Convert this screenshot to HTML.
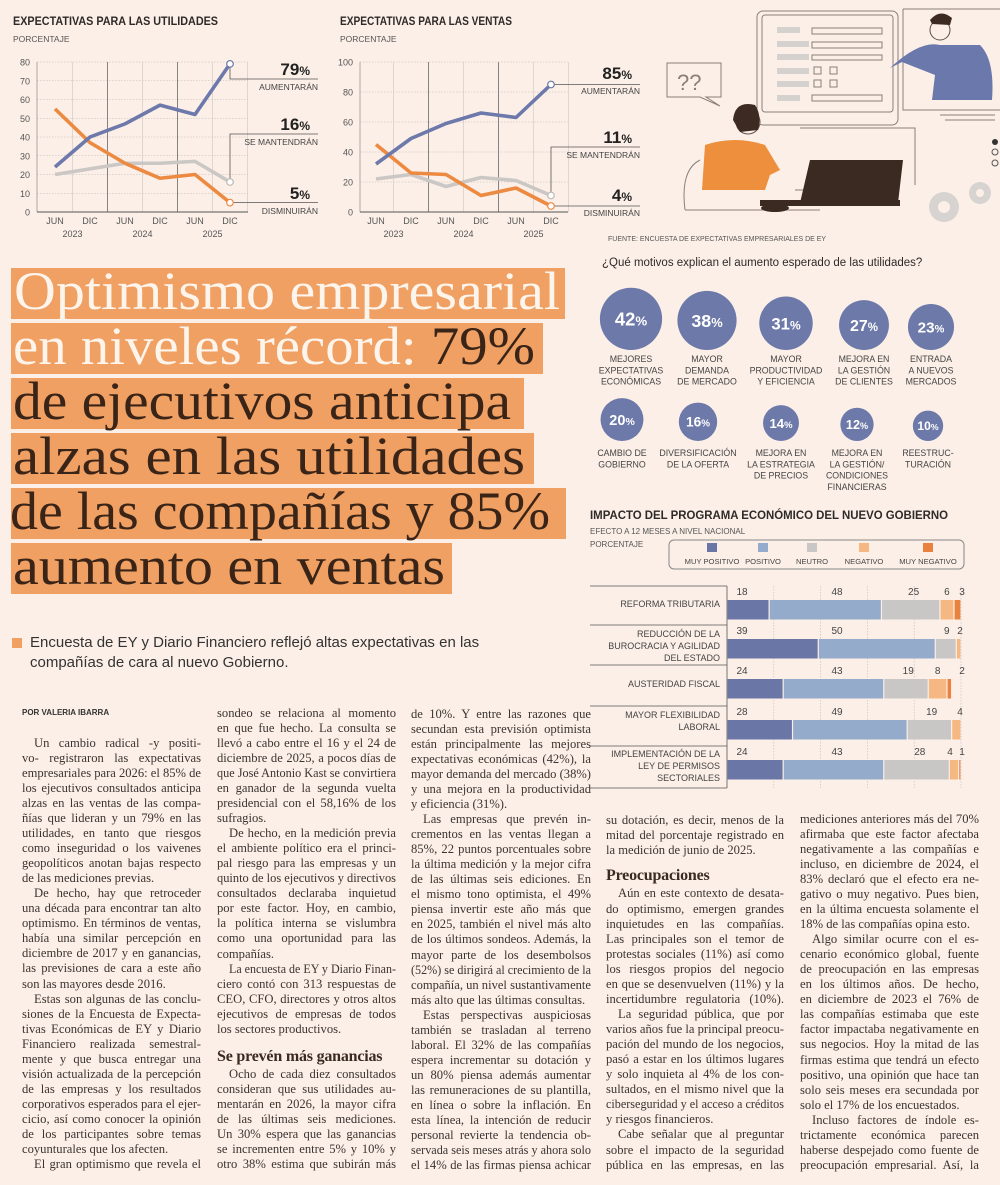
<!DOCTYPE html>
<html><head><meta charset="utf-8">
<style>
html,body{margin:0;padding:0}
body{width:1000px;height:1185px;position:relative;overflow:hidden;background:#fcefe7;font-family:"Liberation Sans",sans-serif;color:#3b3431}
.abs{position:absolute}
.col{position:absolute;font-family:"Liberation Serif",serif;font-size:12.6px;line-height:15.07px;color:#3b3431}
.col div{white-space:nowrap;text-align:justify;text-align-last:justify;height:15.07px;overflow:visible}
.col div.e{text-align-last:left}
.col div.i{text-indent:12px}
.col h3{margin:0;font-family:"Liberation Serif",serif;font-size:16px;letter-spacing:-0.2px;white-space:nowrap;font-weight:bold;color:#3a2a22;height:20px;line-height:20px}
.narrow{font-family:"Liberation Sans Narrow","Liberation Sans",sans-serif}
svg text:not(.sf){font-family:"Liberation Sans Narrow","Liberation Sans",sans-serif}
svg text.sf{font-family:"Liberation Serif",serif}
</style></head>
<body>

<!-- LINE CHARTS -->
<svg id="lines" class="abs" style="left:0;top:0" width="660" height="250">
  <text x="13" y="25" font-size="12" font-weight="bold" fill="#2e2a28" textLength="205" lengthAdjust="spacingAndGlyphs">EXPECTATIVAS PARA LAS UTILIDADES</text>
  <text x="13" y="42" font-size="8.5" fill="#555">PORCENTAJE</text>
  <text x="340" y="25" font-size="12" font-weight="bold" fill="#2e2a28" textLength="172" lengthAdjust="spacingAndGlyphs">EXPECTATIVAS PARA LAS VENTAS</text>
  <text x="340" y="42" font-size="8.5" fill="#555">PORCENTAJE</text>
  <g id="g1"></g><g id="g2"></g>
</svg>

<!-- ILLUSTRATION -->
<svg class="abs" style="left:640px;top:0" width="360" height="235">
  <g fill="none" stroke="#8a7f78" stroke-width="1">
    <rect x="117" y="11" width="141" height="114" rx="6"/>
    <rect x="122" y="15" width="131" height="97" rx="3"/>
    <path d="M263 9 H360 M263 9 V110 H360"/>
    <path d="M27 63 H81 V97 H66 L80 106 L60 97 H27 Z"/>
    <path d="M172 28h70v6h-70z M172 42h70v6h-70z M172 55h70v5h-70z M172 95h70v6h-70z"/>
    <rect x="174" y="67" width="7" height="7"/><rect x="190" y="67" width="7" height="7"/>
    <rect x="174" y="80" width="7" height="7"/><rect x="190" y="80" width="7" height="7"/>
    <path d="M160 128 H275 V185 M155 190 H230"/>
    <path d="M60 160 Q40 170 45 210 M45 210 H180"/>
    <path d="M300 115 H355 M305 120 H355"/>
  </g>
  <g fill="#d4d1ce"><rect x="137" y="27" width="23" height="6"/><rect x="137" y="41" width="32" height="6"/><rect x="137" y="54" width="32" height="6"/><rect x="137" y="68" width="32" height="6"/><rect x="137" y="81" width="32" height="6"/><rect x="137" y="95" width="23" height="6"/></g>
  <text x="37" y="90" font-size="22" fill="#8a7f78">??</text>
  <path d="M250 68 Q280 40 300 45 L340 45 Q355 60 352 100 L292 100 L295 75 L262 62 Z" fill="#6b78ab"/>
  <circle cx="300" cy="30" r="10" fill="#fcefe7" stroke="#5a4e48"/>
  <path d="M290 20 Q300 8 312 18 L310 25 L292 24 Z" fill="#3d2a22"/>
  <circle cx="108" cy="122" r="12" fill="#fcefe7" stroke="#5a4e48"/>
  <path d="M93 120 Q95 100 115 105 Q122 115 118 130 L100 132 Z" fill="#3d2a22"/>
  <path d="M65 145 Q95 135 125 145 L140 170 L130 175 L125 190 L62 190 Z" fill="#ee8f3e"/>
  <path d="M170 160 H263 L258 203 H160 Z" fill="#3a2a22"/>
  <rect x="120" y="200" width="140" height="6" fill="#3a2a22"/>
  <ellipse cx="135" cy="208" rx="14" ry="4" fill="#3a2a22"/>
  <circle cx="304" cy="207" r="15" fill="#d6d3d0"/><circle cx="304" cy="207" r="6" fill="#fcefe7"/>
  <circle cx="340" cy="193" r="11" fill="#d6d3d0"/><circle cx="340" cy="193" r="4" fill="#fcefe7"/>
  <circle cx="355" cy="142" r="3" fill="#333"/><circle cx="355" cy="152" r="3" fill="none" stroke="#555"/><circle cx="355" cy="163" r="3" fill="none" stroke="#555"/>
</svg>
<div class="abs narrow" style="left:608px;top:236px;font-size:7px;color:#555">FUENTE: ENCUESTA DE EXPECTATIVAS EMPRESARIALES DE EY</div>

<!-- BUBBLES -->
<div class="abs" style="left:602px;top:257px;font-size:11.5px;color:#2e2a28">¿Qué motivos explican el aumento esperado de las utilidades?</div>
<svg id="bub" class="abs" style="left:590px;top:270px" width="410" height="230"></svg>

<!-- BAR CHART -->
<svg id="bars" class="abs" style="left:580px;top:500px" width="420" height="295">
  <text x="10" y="19" font-size="12" font-weight="bold" fill="#2e2a28" textLength="358" lengthAdjust="spacingAndGlyphs">IMPACTO DEL PROGRAMA ECONÓMICO DEL NUEVO GOBIERNO</text>
  <text x="10" y="34" font-size="8" fill="#555">EFECTO A 12 MESES A NIVEL NACIONAL</text>
  <text x="10" y="47" font-size="8" fill="#555">PORCENTAJE</text>
  <rect x="89" y="40" width="295" height="29" rx="5" fill="none" stroke="#888"/>
  <g id="legend"></g>
  <g id="barg"></g>
</svg>

<!-- HEADLINE -->
<svg class="abs" style="left:0;top:260px" width="600" height="350">
  <g fill="#efa062">
    <rect x="11" y="8" width="554" height="51"/>
    <rect x="11" y="63" width="532" height="51"/>
    <rect x="11" y="118" width="513" height="51"/>
    <rect x="11" y="173" width="523" height="51"/>
    <rect x="11" y="228" width="555" height="51"/>
    <rect x="11" y="283" width="441" height="51"/>
  </g>
  <g font-size="54" fill="#3a2418">
    <text class="sf" x="14" y="49" textLength="546" lengthAdjust="spacingAndGlyphs" fill="#fdf4ec">Optimismo empresarial</text>
    <text class="sf" x="13" y="104" textLength="522" lengthAdjust="spacingAndGlyphs"><tspan fill="#fdf4ec">en niveles récord: </tspan>79%</text>
    <text class="sf" x="13" y="159" textLength="498" lengthAdjust="spacingAndGlyphs">de ejecutivos anticipa</text>
    <text class="sf" x="13" y="214" textLength="512" lengthAdjust="spacingAndGlyphs">alzas en las utilidades</text>
    <text class="sf" x="10" y="269" textLength="540" lengthAdjust="spacingAndGlyphs">de las compañías y 85%</text>
    <text class="sf" x="13" y="324" textLength="432" lengthAdjust="spacingAndGlyphs">aumento en ventas</text>
  </g>
</svg>

<div class="abs" style="left:12px;top:638px;width:10px;height:10px;background:#efa062"></div>
<div class="abs" style="left:30px;top:633px;font-size:15px;line-height:20px;color:#333;width:520px">Encuesta de EY y Diario Financiero reflejó altas expectativas en las<br>compañías de cara al nuevo Gobierno.</div>

<div class="abs" style="left:22px;top:708px;font-size:8px;font-weight:bold;color:#333">POR VALERIA IBARRA</div>

<!-- COLUMN 1 -->
<div class="col" style="left:22px;top:735.5px;width:179px">
<div class="i">Un cambio radical -y positi-</div>
<div>vo- registraron las expectativas</div>
<div>empresariales para 2026: el 85% de</div>
<div>los ejecutivos consultados anticipa</div>
<div>alzas en las ventas de las compa-</div>
<div>ñías que lideran y un 79% en las</div>
<div>utilidades, en tanto que riesgos</div>
<div>como inseguridad o los vaivenes</div>
<div>geopolíticos anotan bajas respecto</div>
<div class="e">de las mediciones previas.</div>
<div class="i">De hecho, hay que retroceder</div>
<div>una década para encontrar tan alto</div>
<div>optimismo. En términos de ventas,</div>
<div>había una similar percepción en</div>
<div>diciembre de 2017 y en ganancias,</div>
<div>las previsiones de cara a este año</div>
<div class="e">son las mayores desde 2016.</div>
<div class="i">Estas son algunas de las conclu-</div>
<div>siones de la Encuesta de Expecta-</div>
<div>tivas Económicas de EY y Diario</div>
<div>Financiero realizada semestral-</div>
<div>mente y que busca entregar una</div>
<div>visión actualizada de la percepción</div>
<div>de las empresas y los resultados</div>
<div>corporativos esperados para el ejer-</div>
<div>cicio, así como conocer la opinión</div>
<div>de los participantes sobre temas</div>
<div class="e">coyunturales que los afecten.</div>
<div class="i">El gran optimismo que revela el</div>
</div>

<!-- COLUMN 2 -->
<div class="col" style="left:217px;top:705.5px;width:179px">
<div>sondeo se relaciona al momento</div>
<div>en que fue hecho. La consulta se</div>
<div>llevó a cabo entre el 16 y el 24 de</div>
<div>diciembre de 2025, a pocos días de</div>
<div>que José Antonio Kast se convirtiera</div>
<div>en ganador de la segunda vuelta</div>
<div>presidencial con el 58,16% de los</div>
<div class="e">sufragios.</div>
<div class="i">De hecho, en la medición previa</div>
<div>el ambiente político era el princi-</div>
<div>pal riesgo para las empresas y un</div>
<div>quinto de los ejecutivos y directivos</div>
<div>consultados declaraba inquietud</div>
<div>por este factor. Hoy, en cambio,</div>
<div>la política interna se vislumbra</div>
<div>como una oportunidad para las</div>
<div class="e">compañías.</div>
<div class="i">La encuesta de EY y Diario Finan-</div>
<div>ciero contó con 313 respuestas de</div>
<div>CEO, CFO, directores y otros altos</div>
<div>ejecutivos de empresas de todos</div>
<div class="e">los sectores productivos.</div>
<h3 style="margin-top:10px">Se prevén más ganancias</h3>
<div class="i">Ocho de cada diez consultados</div>
<div>consideran que sus utilidades au-</div>
<div>mentarán en 2026, la mayor cifra</div>
<div>de las últimas seis mediciones.</div>
<div>Un 30% espera que las ganancias</div>
<div>se incrementen entre 5% y 10% y</div>
<div>otro 38% estima que subirán más</div>
</div>

<!-- COLUMN 3 -->
<div class="col" style="left:411px;top:706.5px;width:180px">
<div>de 10%. Y entre las razones que</div>
<div>secundan esta previsión optimista</div>
<div>están principalmente las mejores</div>
<div>expectativas económicas (42%), la</div>
<div>mayor demanda del mercado (38%)</div>
<div>y una mejora en la productividad</div>
<div class="e">y eficiencia (31%).</div>
<div class="i">Las empresas que prevén in-</div>
<div>crementos en las ventas llegan a</div>
<div>85%, 22 puntos porcentuales sobre</div>
<div>la última medición y la mejor cifra</div>
<div>de las últimas seis ediciones. En</div>
<div>el mismo tono optimista, el 49%</div>
<div>piensa invertir este año más que</div>
<div>en 2025, también el nivel más alto</div>
<div>de los últimos sondeos. Además, la</div>
<div>mayor parte de los desembolsos</div>
<div>(52%) se dirigirá al crecimiento de la</div>
<div>compañía, un nivel sustantivamente</div>
<div class="e">más alto que las últimas consultas.</div>
<div class="i">Estas perspectivas auspiciosas</div>
<div>también se trasladan al terreno</div>
<div>laboral. El 32% de las compañías</div>
<div>espera incrementar su dotación y</div>
<div>un 80% piensa además aumentar</div>
<div>las remuneraciones de su plantilla,</div>
<div>en línea o sobre la inflación. En</div>
<div>esta línea, la intención de reducir</div>
<div>personal revierte la tendencia ob-</div>
<div>servada seis meses atrás y ahora solo</div>
<div>el 14% de las firmas piensa achicar</div>
</div>

<!-- COLUMN 4 -->
<div class="col" style="left:606px;top:812.5px;width:178px">
<div>su dotación, es decir, menos de la</div>
<div>mitad del porcentaje registrado en</div>
<div class="e">la medición de junio de 2025.</div>
<h3 style="margin-top:8px;height:20.8px">Preocupaciones</h3>
<div class="i">Aún en este contexto de desata-</div>
<div>do optimismo, emergen grandes</div>
<div>inquietudes en las compañías.</div>
<div>Las principales son el temor de</div>
<div>protestas sociales (11%) así como</div>
<div>los riesgos propios del negocio</div>
<div>en que se desenvuelven (11%) y la</div>
<div>incertidumbre regulatoria (10%).</div>
<div class="i">La seguridad pública, que por</div>
<div>varios años fue la principal preocu-</div>
<div>pación del mundo de los negocios,</div>
<div>pasó a estar en los últimos lugares</div>
<div>y solo inquieta al 4% de los con-</div>
<div>sultados, en el mismo nivel que la</div>
<div>ciberseguridad y el acceso a créditos</div>
<div class="e">y riesgos financieros.</div>
<div class="i">Cabe señalar que al preguntar</div>
<div>sobre el impacto de la seguridad</div>
<div>pública en las empresas, en las</div>
</div>

<!-- COLUMN 5 -->
<div class="col" style="left:800px;top:811.5px;width:179px">
<div>mediciones anteriores más del 70%</div>
<div>afirmaba que este factor afectaba</div>
<div>negativamente a las compañías e</div>
<div>incluso, en diciembre de 2024, el</div>
<div>83% declaró que el efecto era ne-</div>
<div>gativo o muy negativo. Pues bien,</div>
<div>en la última encuesta solamente el</div>
<div class="e">18% de las compañías opina esto.</div>
<div class="i">Algo similar ocurre con el es-</div>
<div>cenario económico global, fuente</div>
<div>de preocupación en las empresas</div>
<div>en los últimos años. De hecho,</div>
<div>en diciembre de 2023 el 76% de</div>
<div>las compañías estimaba que este</div>
<div>factor impactaba negativamente en</div>
<div>sus negocios. Hoy la mitad de las</div>
<div>firmas estima que tendrá un efecto</div>
<div>positivo, una opinión que hace tan</div>
<div>solo seis meses era secundada por</div>
<div class="e">solo el 17% de los encuestados.</div>
<div class="i">Incluso factores de índole es-</div>
<div>trictamente económica parecen</div>
<div>haberse despejado como fuente de</div>
<div>preocupación empresarial. Así, la</div>
</div>

<script>
// ---------- line chart data ----------
const periods = ['JUN','DIC','JUN','DIC','JUN','DIC'];
const years = ['2023','2024','2025'];
const utilUp = [24,40,47,57,52,79];
const utilSame = [20,23,26,26,27,16];
const utilDown = [55,37,26,18,20,5];
const ventUp = [32,49,59,66,63,85];
const ventSame = [22,25,17,23,21,11];
const ventDown = [45,26,25,11,16,4];
const utilTicks = [0,10,20,30,40,50,60,70,80];
const ventTicks = [0,20,40,60,80,100];
const seriesNames = ['AUMENTARÁN','SE MANTENDRÁN','DISMINUIRÁN'];

// ---------- bubble data ----------
const motiveValues = [42,38,31,27,23,20,16,14,12,10];
const motiveLabels = [
 ['MEJORES','EXPECTATIVAS','ECONÓMICAS'],['MAYOR','DEMANDA','DE MERCADO'],['MAYOR','PRODUCTIVIDAD','Y EFICIENCIA'],
 ['MEJORA EN','LA GESTIÓN','DE CLIENTES'],['ENTRADA','A NUEVOS','MERCADOS'],['CAMBIO DE','GOBIERNO'],
 ['DIVERSIFICACIÓN','DE LA OFERTA'],['MEJORA EN','LA ESTRATEGIA','DE PRECIOS'],
 ['MEJORA EN','LA GESTIÓN/','CONDICIONES','FINANCIERAS'],['REESTRUC-','TURACIÓN']];

// ---------- bar chart data ----------
const barCats = [['REFORMA TRIBUTARIA'],['REDUCCIÓN DE LA','BUROCRACIA Y AGILIDAD','DEL ESTADO'],['AUSTERIDAD FISCAL'],['MAYOR FLEXIBILIDAD','LABORAL'],['IMPLEMENTACIÓN DE LA','LEY DE PERMISOS','SECTORIALES']];
const muyPositivo = [18,39,24,28,24];
const positivo = [48,50,43,49,43];
const neutro = [25,9,19,19,28];
const negativo = [6,2,8,4,4];
const muyNegativo = [3,0,2,0,1];
const legendNames = ['MUY POSITIVO','POSITIVO','NEUTRO','NEGATIVO','MUY NEGATIVO'];

const NS='http://www.w3.org/2000/svg';
function mk(tag, attrs, parent){const e=document.createElementNS(NS,tag);for(const k in attrs)e.setAttribute(k,attrs[k]);parent.appendChild(e);return e;}

function lineChart(g, cfg){
  const x=i=>cfg.x0+i*cfg.dx;
  const y=v=>212-v*150/cfg.max;
  cfg.ticks.forEach(t=>{
    const l=mk('line',{x1:cfg.left,x2:cfg.right,y1:y(t),y2:y(t),stroke:'#bdb7b2','stroke-width':0.6,'stroke-dasharray':'1.5,1.5'},g);
    
    
    const tx=mk('text',{x:cfg.left-7,y:y(t)+3.5,'font-size':9,'text-anchor':'end',fill:'#555'},g);
    tx.textContent=t;
    
    
  });
  for(let i=0;i<6;i++){
    const xv=x(i)+cfg.dx/2;
    const dark=(i%2===1 && i<5);
    const l=mk('line',{x1:xv,x2:xv,y1:y(cfg.max),y2:212,stroke:dark?'#777':'#d2ccc8','stroke-width':dark?0.9:0.7},g);
    
    
  }
  mk('line',{x1:cfg.left,x2:cfg.left,y1:y(cfg.max),y2:212,stroke:'#999','stroke-width':0.8},g);
  mk('line',{x1:cfg.left,x2:cfg.right,y1:212,y2:212,stroke:'#555','stroke-width':0.9},g);
  periods.forEach((p,i)=>{
    const t=mk('text',{x:x(i),y:224,'font-size':9,'text-anchor':'middle',fill:'#555'},g);t.textContent=p;
    
    
  });
  years.forEach((yr,j)=>{
    const t=mk('text',{x:(x(2*j)+x(2*j+1))/2,y:237,'font-size':9,'text-anchor':'middle',fill:'#555'},g);t.textContent=yr;
    
    
  });
  const ser=[[cfg.same,'#cac7c4'],[cfg.down,'#ec8a42'],[cfg.up,'#6c79aa']];
  ser.forEach(([d,c],k)=>{
    const p=mk('polyline',{points:d.map((v,i)=>x(i)+','+y(v)).join(' '),fill:'none',stroke:c,'stroke-width':3.6,'stroke-linejoin':'round'},g);
    
    
  });
  const ends=[[cfg.up,0],[cfg.same,1],[cfg.down,2]];
  ends.forEach(([d,k])=>{
    const v=d[5], px=x(5), py=y(v);
    const ly=cfg.lineY[k];
    if(Math.abs(ly-py)<3){
      mk('line',{x1:px,x2:cfg.end,y1:py,y2:py,stroke:'#555','stroke-width':0.8},g);
    } else {
      mk('polyline',{points:`${px},${py} ${px},${ly} ${cfg.end},${ly}`,fill:'none',stroke:'#555','stroke-width':0.8},g);
    }
    const c=mk('circle',{cx:px,cy:py,r:3.3,fill:'#fff',stroke:['#6c79aa','#bdbab7','#ec8a42'][k],'stroke-width':1.2},g);
    
    
    const big=mk('text',{x:cfg.end-8,y:ly-4,'font-size':17,'font-weight':'bold','text-anchor':'end',fill:'#222'},g);
    big.textContent=v;
    const pct=mk('tspan',{'font-size':12},big);pct.textContent='%';
    
    
    const nm=mk('text',{x:cfg.end,y:ly+11,'font-size':8.5,'text-anchor':'end',fill:'#444'},g);
    nm.textContent=seriesNames[k];
    
    
  });
}
lineChart(document.getElementById('g1'),{x0:55,dx:35,left:37,right:248,max:80,ticks:utilTicks,up:utilUp,same:utilSame,down:utilDown,end:318,lineY:[79,134,203]});
lineChart(document.getElementById('g2'),{x0:376,dx:35,left:360,right:568,max:100,ticks:ventTicks,up:ventUp,same:ventSame,down:ventDown,end:640,lineY:[83,147,205]});

// ---------- bubbles ----------
const bub=document.getElementById('bub');
const colX=[41,117,196,274,341, 32,108,191,267,338];
motiveValues.forEach((v,i)=>{
  const r=4.8*Math.sqrt(v);
  const row=i<5?0:1;
  const base=row?171:80;
  const cx=colX[i], cy=base-r;
  const c=mk('circle',{cx:cx,cy:cy,r:r,fill:'#6c79a9'},bub);
  
  
  const fs=6+r*0.4;
  const t=mk('text',{x:cx,y:cy+fs*0.36,'font-size':fs,'font-weight':'bold','text-anchor':'middle',fill:'#fff'},bub);
  t.textContent=v;
  const s=mk('tspan',{'font-size':fs*0.72},t);s.textContent='%';
  
  
  motiveLabels[i].forEach((ln,j)=>{
    const lt=mk('text',{x:cx,y:(row?186:92)+j*11.3,'font-size':8.8,'text-anchor':'middle',fill:'#444'},bub);
    lt.textContent=ln;
    
    
  });
});

// ---------- bar chart ----------
const barg=document.getElementById('barg'), leg=document.getElementById('legend');
const segColors=['#6a76a6','#95abcc','#c9c7c5','#f5b883','#e9823e'];
const legX=[132,183,232,284,348];
legendNames.forEach((n,i)=>{
  const r=mk('rect',{x:legX[i]-5,y:43,width:10,height:9,fill:segColors[i]},leg);
  
  
  const t=mk('text',{x:legX[i],y:64,'font-size':7.6,'text-anchor':'middle',fill:'#444'},leg);
  t.textContent=n;
  
  
});
const X0=147, W=2.34;
const bx=v=>X0+v*W;
const rowTop=[86,125,165,206,246];
const rowLblY=[[107],[137,149,161],[187],[218,230],[257,269,281]];
rowTop.forEach(t=>{mk('line',{x1:10,x2:X0,y1:t,y2:t,stroke:'#555','stroke-width':0.8},barg);});
mk('line',{x1:10,x2:X0,y1:288,y2:288,stroke:'#555','stroke-width':0.8},barg);
[20,40,60,80,100].forEach(p=>{
  const l=mk('line',{x1:bx(p),x2:bx(p),y1:86,y2:288,stroke:'#bbb','stroke-width':0.6,'stroke-dasharray':'1.5,1.5'},barg);
  
  
});
mk('line',{x1:X0,x2:X0,y1:86,y2:288,stroke:'#555','stroke-width':0.8},barg);
const series=[muyPositivo,positivo,neutro,negativo,muyNegativo];
barCats.forEach((cat,r)=>{
  cat.forEach((ln,j)=>{
    const t=mk('text',{x:140,y:rowLblY[r][j],'font-size':9,'text-anchor':'end',fill:'#444'},barg);
    t.textContent=ln;
    
    
  });
  let acc=0;
  const by=rowTop[r]+14;
  series.forEach((s,k)=>{
    const v=s[r];
    if(v<=0) return;
    const rect=mk('rect',{x:bx(acc)+0.6,y:by,width:Math.max(v*W-1.2,0.8),height:19.5,fill:segColors[k]},barg);
    
    
    let lx;
    if(k===0) lx=bx(acc)+15;
    else if(k===1) lx=257;
    else if(k===2) lx=bx(acc)+v*W*0.55;
    else if(k===4) lx=bx(100)+1;
    else lx=(r===1||r===3)?bx(100)-1:bx(acc)+v*W/2-(r===4?4:0);
    const tl=mk('text',{x:lx,y:by-5,'font-size':10,'text-anchor':'middle',fill:'#444'},barg);
    tl.textContent=v;
    
    
    acc+=v;
  });
});

// ---------- fix overflowing text lines ----------
document.querySelectorAll('.col div').forEach(d=>{
  const w=d.clientWidth;
  const sp=document.createElement('span');
  sp.style.whiteSpace='nowrap';
  sp.textContent=d.textContent;
  d.innerHTML='';d.appendChild(sp);
  const ind=d.classList.contains('i')?12:0;
  const sw=sp.getBoundingClientRect().width;
  if(sw+ind>w){
    sp.style.display='inline-block';
    sp.style.textIndent='0';
    sp.style.transformOrigin='0 0';
    sp.style.transform='scaleX('+((w-ind)/sw)+')';
    if(ind) sp.style.marginLeft=ind+'px';
    d.style.textIndent='0';
    d.style.textAlign='left';d.style.textAlignLast='left';
  } else {
    d.textContent=sp.textContent;
  }
});
</script>
</body></html>
